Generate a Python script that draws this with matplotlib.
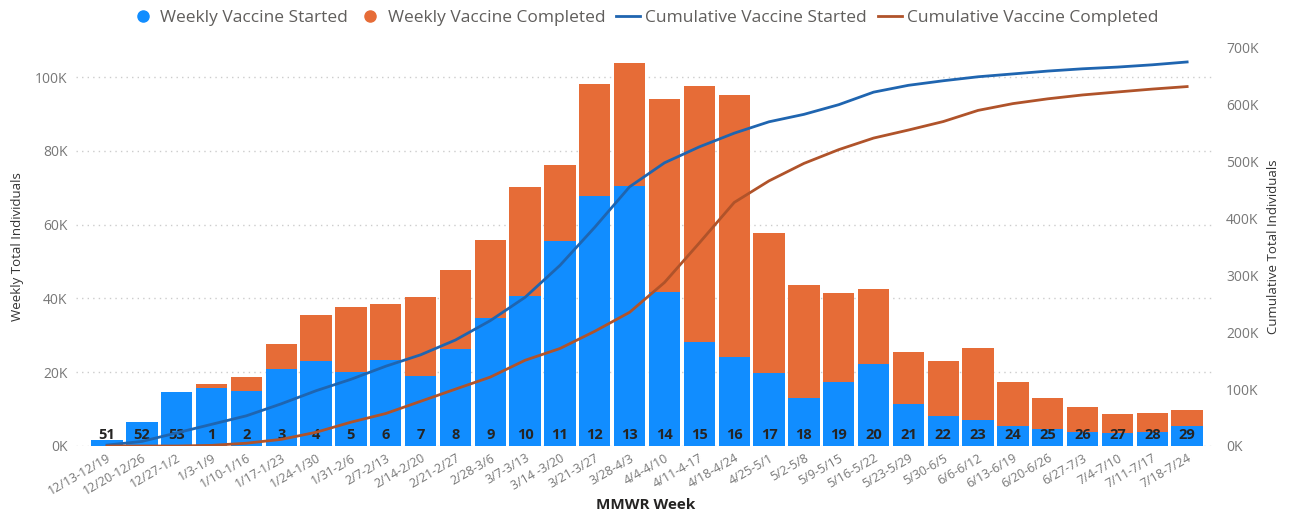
import matplotlib.pyplot as plt
import numpy as np
from matplotlib.lines import Line2D
from matplotlib.ticker import FuncFormatter

plt.rcParams['font.family'] = ['Open Sans', 'DejaVu Sans']

# MMWR weeks and date ranges
weeks = ['51', '52', '53'] + [str(i) for i in range(1, 30)]
week_ranges = ['12/13-12/19', '12/20-12/26', '12/27-1/2', '1/3-1/9', '1/10-1/16', '1/17-1/23',
               '1/24-1/30', '1/31-2/6', '2/7-2/13', '2/14-2/20', '2/21-2/27', '2/28-3/6',
               '3/7-3/13', '3/14 -3/20', '3/21-3/27', '3/28-4/3', '4/4-4/10', '4/11-4-17',
               '4/18-4/24', '4/25-5/1', '5/2-5/8', '5/9-5/15', '5/16-5/22', '5/23-5/29',
               '5/30-6/5', '6/6-6/12', '6/13-6/19', '6/20-6/26', '6/27-7/3', '7/4-7/10',
               '7/11-7/17', '7/18-7/24']

# weekly counts (thousands)
started = [1.6, 6.5, 14.6, 15.7, 14.9, 20.9, 23.0, 20.0, 23.3, 19.0, 26.3, 34.7,
           40.6, 55.6, 67.8, 70.5, 41.7, 28.2, 24.1, 19.8, 13.0, 17.3, 22.2, 11.4,
           8.1, 7.0, 5.4, 4.6, 3.8, 3.5, 3.8, 5.4]
completed = [0.0, 0.0, 0.0, 1.1, 3.8, 6.7, 12.5, 17.7, 15.2, 21.4, 21.4, 21.1,
             29.6, 20.6, 30.3, 33.3, 52.3, 69.4, 71.0, 37.9, 30.6, 24.2, 20.3, 14.1,
             14.9, 19.6, 11.9, 8.4, 6.8, 5.2, 5.1, 4.4]

# cumulative counts (thousands)
cum_started = [1.6, 8, 23, 38, 53, 74, 97, 117, 140, 160, 186, 220, 261, 317, 384, 455,
               497, 525, 549, 569, 582, 599, 621, 633, 641, 648, 653, 658, 662, 665, 669, 674]
cum_completed = [0, 0, 0, 1.1, 4.9, 11.6, 24.1, 41.8, 57, 78.4, 99.8, 120.9, 150.5, 171.1,
                 201.4, 234.7, 287, 356.4, 427.4, 465.3, 495.9, 520.1, 540.4, 554.5, 569.4,
                 589, 600.9, 609.3, 616.1, 621.3, 626.4, 630.8]

c_start = '#118DFF'
c_comp = '#E66C37'
c_cum_start = '#1F65B0'
c_cum_comp = '#B0532A'

fig = plt.figure(figsize=(12.89, 5.18), dpi=100)
ax = fig.add_axes([0.0587, 0.139, 0.8839, 0.770])
ax2 = ax.twinx()

x = np.arange(len(weeks))
ax.bar(x, started, width=0.9, color=c_start, zorder=2)
ax.bar(x, completed, width=0.9, bottom=started, color=c_comp, zorder=2)
for xi, w in zip(x, weeks):
    ax.text(xi, 2.9, w, ha='center', va='center', fontsize=10.5, fontweight='bold',
            color='#252423', zorder=3)

ax2.plot(x, cum_started, color=c_cum_start, lw=2)
ax2.plot(x, cum_completed, color=c_cum_comp, lw=2)

ax.set_xlim(-0.9, 31.8)
ax.set_ylim(0, 108.1)
ax2.set_ylim(0, 700)
ax.set_yticks([0, 20, 40, 60, 80, 100])
ax2.set_yticks(range(0, 701, 100))
fmt = FuncFormatter(lambda v, p: f'{int(v)}K')
ax.yaxis.set_major_formatter(fmt)
ax2.yaxis.set_major_formatter(fmt)

ax.set_xticks(x)
ax.set_xticklabels(week_ranges, rotation=30, ha='right', rotation_mode='anchor',
                   fontsize=9, color='#777777')
ax.tick_params(axis='x', length=0, pad=4)
ax.tick_params(axis='y', length=0, labelsize=10, labelcolor='#777777', pad=6)
ax2.tick_params(axis='y', length=0, labelsize=10, labelcolor='#777777', pad=8)

ax.grid(axis='y', color='#cccccc', linestyle=(0, (1, 3)), lw=1, zorder=0)
for a in (ax, ax2):
    for s in a.spines.values():
        s.set_visible(False)

ax.set_xlabel('MMWR Week', fontsize=11, fontweight='bold', color='#252423', labelpad=0)
ax.set_ylabel('Weekly Total Individuals', fontsize=9.5, color='#333333', labelpad=8)
ax2.set_ylabel('Cumulative Total Individuals', fontsize=9.5, color='#333333', labelpad=6)

handles = [
    Line2D([], [], marker='o', ls='', color=c_start, markersize=8),
    Line2D([], [], marker='o', ls='', color=c_comp, markersize=8),
    Line2D([], [], color=c_cum_start, lw=2),
    Line2D([], [], color=c_cum_comp, lw=2),
]
labels = ['Weekly Vaccine Started', 'Weekly Vaccine Completed',
          'Cumulative Vaccine Started', 'Cumulative Vaccine Completed']
fig.legend(handles, labels, loc='center', bbox_to_anchor=(0.5, 0.965), ncol=4,
           frameon=False, fontsize=12.5, labelcolor='#605E5C', handlelength=1.4,
           handletextpad=0.3, columnspacing=0.6)

fig.savefig('out.png', dpi=100)
